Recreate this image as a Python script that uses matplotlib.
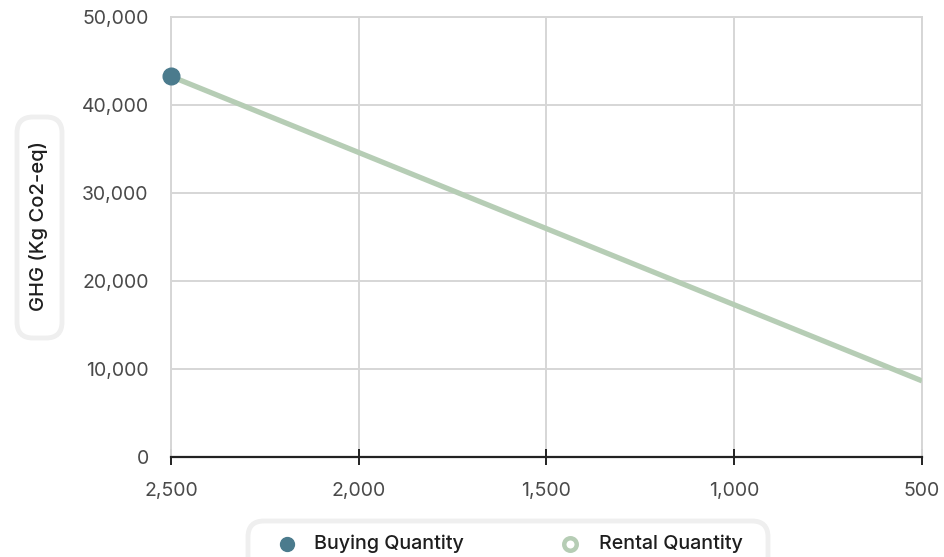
import matplotlib
matplotlib.use('Agg')
import matplotlib.pyplot as plt
from matplotlib.patches import FancyBboxPatch
from matplotlib.lines import Line2D
from matplotlib.ticker import FuncFormatter

plt.rcParams['font.family'] = ['Inter', 'DejaVu Sans']

# quantities run from high to low along the x axis
rental_qty = [2500, 2000, 1500, 1000, 500]
rental_ghg = [43250, 34600, 25950, 17300, 8650]
buying_qty = [2500]
buying_ghg = [43250]

x_ticks = [2500, 2000, 1500, 1000, 500]
y_ticks = [0, 10000, 20000, 30000, 40000, 50000]

LINE_COLOR = '#b6cdb5'
DOT_COLOR = '#4b7b8d'
GRID_COLOR = '#d6d6d6'
TICK_TEXT = '#4a4a4a'
W, H = 945, 557


def px(x, y):
    """Pixel position (from top-left) to inches from bottom-left."""
    return x / 100, (H - y) / 100


fig = plt.figure(figsize=(W / 100, H / 100), dpi=100)
ax = fig.add_axes([171 / W, 100 / H, 751 / W, 440 / H])

ax.plot(rental_qty, rental_ghg, color=LINE_COLOR, lw=3.8, solid_capstyle='butt', zorder=3)
ax.plot(buying_qty, buying_ghg, 'o', color=DOT_COLOR, ms=12, zorder=4, clip_on=False)

ax.set_xlim(2500, 500)
ax.set_ylim(0, 50000)
ax.set_xticks(x_ticks)
ax.set_yticks(y_ticks)
ax.xaxis.set_major_formatter(FuncFormatter(lambda v, _: f'{int(v):,}'))
ax.yaxis.set_major_formatter(FuncFormatter(lambda v, _: f'{int(v):,}'))

ax.grid(True, color=GRID_COLOR, lw=1.4)
ax.set_axisbelow(True)
for side in ('top', 'left', 'right'):
    ax.spines[side].set_color(GRID_COLOR)
    ax.spines[side].set_linewidth(1.4)
ax.spines['bottom'].set_color('#222222')
ax.spines['bottom'].set_linewidth(1.6)

ax.tick_params(axis='x', direction='inout', length=12, width=1.4, color='#222222',
               labelsize=14, labelcolor=TICK_TEXT, pad=12)
ax.tick_params(axis='y', length=0, labelsize=14, labelcolor=TICK_TEXT, pad=16)

# y axis title inside a rounded box
x0, y0 = px(17, 338)
fig.patches.append(FancyBboxPatch((x0, y0), 0.45, 2.21,
                                  boxstyle='round,pad=0,rounding_size=0.16',
                                  transform=fig.dpi_scale_trans, fc='white',
                                  ec='#efefef', lw=3.5))
fig.text(39 / W, 1 - 226 / H, 'GHG (Kg Co2-eq)', rotation=90, ha='center', va='center',
         fontsize=14.5, fontweight='medium', color='#1e1e1e')

# legend box, clipped at the bottom edge
x0, y0 = px(248, 580)
fig.patches.append(FancyBboxPatch((x0, y0), 5.2, 0.59,
                                  boxstyle='round,pad=0,rounding_size=0.16',
                                  transform=fig.dpi_scale_trans, fc='white',
                                  ec='#efefef', lw=3.5))
fig.lines.append(Line2D([287 / W], [1 - 544 / H], marker='o', ms=10, color=DOT_COLOR,
                        transform=fig.transFigure))
fig.lines.append(Line2D([570 / W], [1 - 544 / H], marker='o', ms=9, mfc='white',
                        mec=LINE_COLOR, mew=3.2, transform=fig.transFigure))
fig.text(314 / W, 1 - 544 / H, 'Buying Quantity', ha='left', va='center',
         fontsize=14.2, fontweight='medium', color='#1e1e1e')
fig.text(599 / W, 1 - 544 / H, 'Rental Quantity', ha='left', va='center',
         fontsize=14.2, fontweight='medium', color='#1e1e1e')

fig.savefig('out.png', dpi=100)
